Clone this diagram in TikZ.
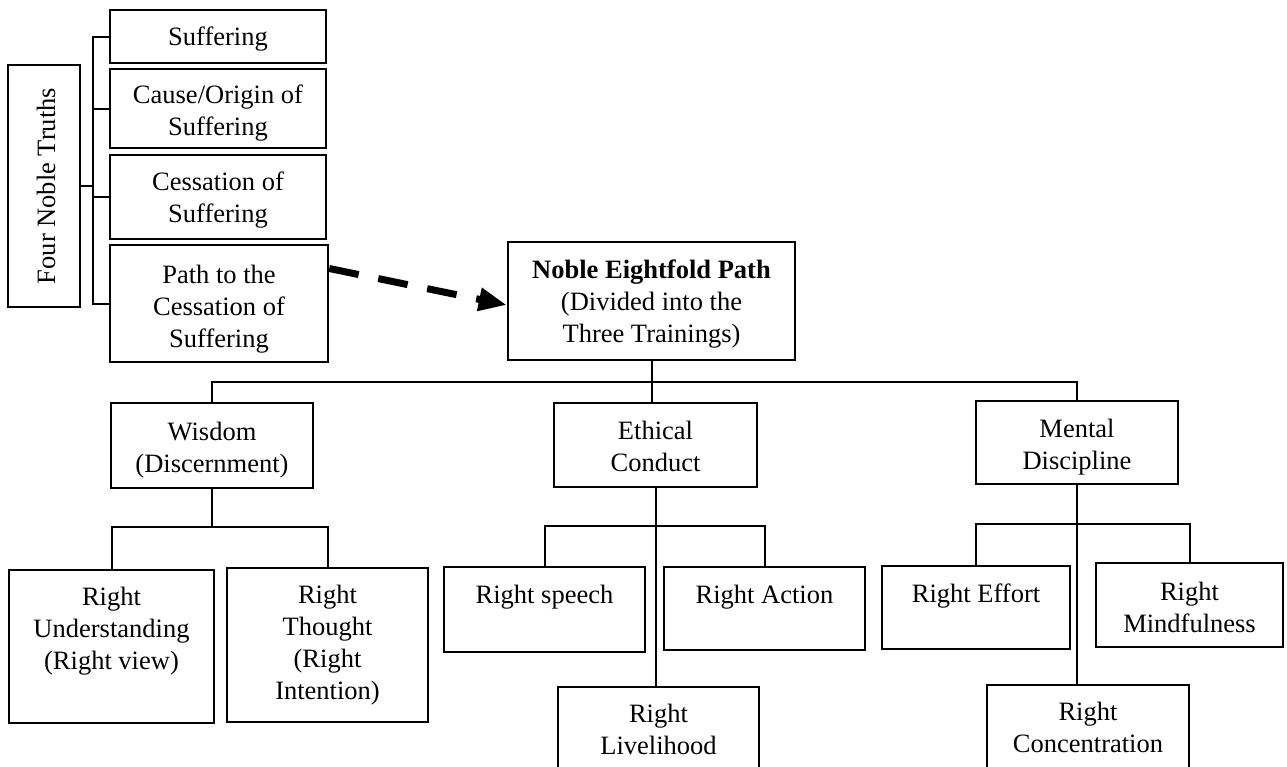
\documentclass[tikz,border=0pt]{standalone}
\usepackage{fontspec}
\setmainfont{Liberation Serif}
\usetikzlibrary{arrows.meta}
\begin{document}
\begin{tikzpicture}[x=1pt,y=-1pt,
  box/.style={draw, line width=2.5pt, rectangle, inner sep=0pt},
  txt/.style={font=\fontsize{26.5}{32}\selectfont, align=center, inner sep=0pt, anchor=north},
  conn/.style={line width=2pt},
  dasharrow/.style={line width=7pt, dash pattern=on 30pt off 20pt, -{Triangle[length=28pt,width=22pt]}}]
\path[use as bounding box] (0,0) rectangle (1287,766);
\clip (0,0) rectangle (1287,766);
\fill[white] (0,0) rectangle (1287,766);

% Four Noble Truths
\node[box, minimum width=72pt, minimum height=242pt] (fnt) at (44,186) {};
\node[txt, anchor=center, rotate=90] (fntt) at (46,186) {Four Noble Truths};

\node[box, minimum width=216pt, minimum height=53pt] (suf) at (218,36.5) {};
\node[txt] (suft) at (218,22.6) {\strut Suffering};
\node[box, minimum width=216pt, minimum height=79pt] (cause) at (218,108.5) {};
\node[txt] (causet) at (218,80.6) {\strut Cause/Origin of\\Suffering};
\node[box, minimum width=216pt, minimum height=84pt] (cess) at (218,197) {};
\node[txt] (cesst) at (218,167.6) {\strut Cessation of\\Suffering};
\node[box, minimum width=218pt, minimum height=117pt] (pathb) at (219,303.5) {};
\node[txt] (patht) at (219,260.6) {\strut Path to the\\Cessation of\\Suffering};

\coordinate (brx) at (93,0);
\draw[conn] (fnt.east) -- (fnt.east -| brx);
\draw[conn] (suf.west) -- (suf.west -| brx) -- (pathb.west -| brx) -- (pathb.west);
\draw[conn] (cause.west) -- (cause.west -| brx);
\draw[conn] (cess.west) -- (cess.west -| brx);

% Noble Eightfold Path
\node[box, minimum width=287pt, minimum height=118pt] (noble) at (651.5,301) {};
\node[txt] (noblet) at (651.5,255.6) {\strut\textbf{Noble Eightfold Path}\\(Divided into the\\Three Trainings)};
\draw[dasharrow] ([yshift=35pt]pathb.east) -- ([yshift=-4pt]noble.west);

% Three trainings
\node[box, minimum width=202pt, minimum height=85pt] (wis) at (212,445.5) {};
\node[txt] (wist) at (212,417.6) {\strut Wisdom\\(Discernment)};
\node[box, minimum width=203pt, minimum height=84pt] (eth) at (655.5,445) {};
\node[txt] (etht) at (655.5,416.6) {\strut Ethical\\Conduct};
\node[box, minimum width=202pt, minimum height=83pt] (men) at (1077,442.5) {};
\node[txt] (ment) at (1077,414.6) {\strut Mental\\Discipline};

\coordinate (bus1) at (0,382);
\draw[conn] (noble.south) -- (noble.south |- eth.north);
\draw[conn] (wis.north) -- (wis.north |- bus1) -- (men.north |- bus1) -- (men.north);

% Wisdom factors
\node[box, minimum width=205pt, minimum height=153pt] (ru) at (111.5,646.5) {};
\node[txt] (rut) at (111.5,582.6) {\strut Right\\Understanding\\(Right view)};
\node[box, minimum width=201pt, minimum height=154pt] (rt) at (327.5,645) {};
\node[txt] (rtt) at (327.5,580.6) {\strut Right\\Thought\\(Right\\Intention)};
\coordinate (bus2) at (0,527);
\draw[conn] (wis.south) -- (wis.south |- bus2);
\draw[conn] (ru.north) -- (ru.north |- bus2) -- (rt.north |- bus2) -- (rt.north);

% Ethical conduct factors
\node[box, minimum width=201pt, minimum height=85pt] (rs) at (544.5,609.5) {};
\node[txt] (rst) at (544.5,580.6) {\strut Right speech};
\node[box, minimum width=201pt, minimum height=83pt] (ra) at (764.5,608.5) {};
\node[txt] (rat) at (764.5,580.6) {\strut Right Action};
\node[box, minimum width=201pt, minimum height=113pt] (rl) at (658.5,743.5) {};
\node[txt] (rlt) at (658.5,699.6) {\strut Right\\Livelihood};
\coordinate (bus3) at (0,526);
\draw[conn] (eth.south) -- (eth.south |- rl.north);
\draw[conn] (rs.north) -- (rs.north |- bus3) -- (ra.north |- bus3) -- (ra.north);

% Mental discipline factors
\node[box, minimum width=188pt, minimum height=83pt] (re) at (976,607.5) {};
\node[txt] (ret) at (976,579.6) {\strut Right Effort};
\node[box, minimum width=187pt, minimum height=84pt] (rm) at (1189.5,605) {};
\node[txt] (rmt) at (1189.5,577.6) {\strut Right\\Mindfulness};
\node[box, minimum width=202pt, minimum height=115pt] (rc) at (1088,742.5) {};
\node[txt] (rct) at (1088,697.6) {\strut Right\\Concentration};
\coordinate (bus4) at (0,524);
\draw[conn] (men.south) -- (men.south |- rc.north);
\draw[conn] (re.north) -- (re.north |- bus4) -- (rm.north |- bus4) -- (rm.north);
\end{tikzpicture}
\end{document}
